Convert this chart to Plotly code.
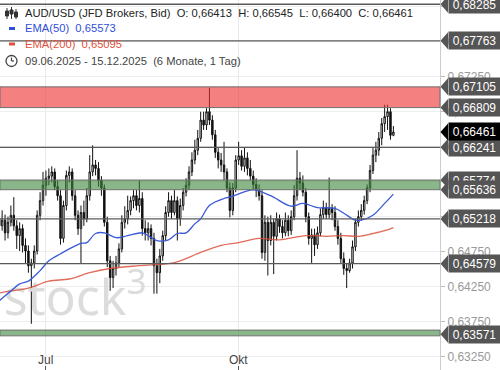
import plotly.graph_objects as go

# ---------------- data ----------------
bar_index = list(range(136))  # trading days 09.06.2025 .. 15.12.2025
tick_bars = [16, 82]
tick_text = ["Jul", "Okt"]

open_ = [0.6522,0.6512,0.6520,0.6502,0.6517,0.6527,0.6512,0.6498,0.6508,0.6484,
0.6476,0.6455,0.6459,0.6476,0.6527,0.6548,0.6570,0.6580,0.6583,0.6589,
0.6568,0.6555,0.6494,0.6541,0.6584,0.6589,0.6555,0.6527,0.6508,0.6531,
0.6522,0.6555,0.6589,0.6599,0.6594,0.6577,0.6566,0.6517,0.6462,0.6438,
0.6451,0.6459,0.6479,0.6517,0.6522,0.6534,0.6548,0.6555,0.6541,0.6551,
0.6508,0.6502,0.6508,0.6494,0.6455,0.6445,0.6469,0.6498,0.6531,0.6548,
0.6531,0.6548,0.6522,0.6541,0.6560,0.6570,0.6589,0.6606,0.6620,0.6637,
0.6663,0.6656,0.6675,0.6663,0.6642,0.6617,0.6606,0.6599,0.6589,0.6566,
0.6534,0.6566,0.6606,0.6612,0.6597,0.6609,0.6594,0.6583,0.6571,0.6563,
0.6555,0.6474,0.6517,0.6491,0.6517,0.6497,0.6522,0.6511,0.6502,0.6520,
0.6505,0.6525,0.6555,0.6580,0.6573,0.6560,0.6525,0.6494,0.6499,0.6485,
0.6502,0.6528,0.6538,0.6528,0.6537,0.6531,0.6511,0.6494,0.6465,0.6451,
0.6448,0.6459,0.6482,0.6517,0.6525,0.6534,0.6548,0.6566,0.6591,0.6613,
0.6620,0.6637,0.6658,0.6668,0.6675,0.66413]

high = [0.6531,0.6534,0.6528,0.6525,0.6541,0.6553,0.6520,0.6517,0.6514,0.6494,
0.6484,0.6465,0.6484,0.6534,0.6560,0.6589,0.6591,0.6594,0.6597,0.6594,
0.6577,0.6563,0.6548,0.6591,0.6597,0.6594,0.6563,0.6534,0.6541,0.6548,
0.6566,0.6613,0.6627,0.6606,0.6603,0.6583,0.6571,0.6525,0.6469,0.6462,
0.6469,0.6487,0.6527,0.6540,0.6555,0.6554,0.6563,0.6563,0.6577,0.6560,
0.6520,0.6517,0.6514,0.6502,0.6465,0.6479,0.6505,0.6540,0.6560,0.6555,
0.6563,0.6554,0.6551,0.6566,0.6580,0.6597,0.6617,0.6635,0.6649,0.6675,
0.6675,0.6680,0.6709,0.6670,0.6649,0.6623,0.6616,0.6632,0.6594,0.6574,
0.6573,0.6613,0.6632,0.6620,0.6624,0.6617,0.6606,0.6591,0.6580,0.6571,
0.6563,0.6527,0.6525,0.6527,0.6522,0.6531,0.6528,0.6520,0.6531,0.6527,
0.6534,0.6570,0.6620,0.6589,0.6584,0.6566,0.6531,0.6508,0.6508,0.6511,
0.6537,0.6548,0.6545,0.6581,0.6543,0.6540,0.6520,0.6502,0.6474,0.6459,
0.6465,0.6491,0.6522,0.6534,0.6543,0.6555,0.6571,0.6599,0.6623,0.6632,
0.6646,0.6666,0.6685,0.6685,0.6680,0.66545]

low = [0.6502,0.6505,0.6491,0.6494,0.6511,0.6505,0.6479,0.6476,0.6474,0.6459,
0.6445,0.6372,0.6451,0.6471,0.6520,0.6541,0.6555,0.6570,0.6574,0.6563,
0.6548,0.6485,0.6488,0.6534,0.6574,0.6548,0.6520,0.6499,0.6458,0.6512,
0.6517,0.6548,0.6583,0.6584,0.6568,0.6555,0.6511,0.6453,0.6419,0.6423,
0.6441,0.6453,0.6474,0.6508,0.6514,0.6527,0.6537,0.6534,0.6531,0.6498,
0.6491,0.6491,0.6484,0.6415,0.6415,0.6430,0.6462,0.6491,0.6525,0.6522,
0.6527,0.6491,0.6512,0.6534,0.6554,0.6563,0.6583,0.6600,0.6613,0.6632,
0.6649,0.6649,0.6656,0.6635,0.6609,0.6594,0.6589,0.6577,0.6560,0.6524,
0.6527,0.6560,0.6599,0.6591,0.6589,0.6584,0.6577,0.6563,0.6553,0.6548,
0.6465,0.6462,0.6441,0.6484,0.6443,0.6491,0.6502,0.6494,0.6497,0.6497,
0.6499,0.6520,0.6548,0.6563,0.6554,0.6517,0.6485,0.6459,0.6469,0.6479,
0.6497,0.6522,0.6522,0.6522,0.6520,0.6505,0.6485,0.6459,0.6442,0.6423,
0.6445,0.6451,0.6476,0.6511,0.6520,0.6528,0.6543,0.6560,0.6586,0.6603,
0.6612,0.6627,0.6646,0.6649,0.6635,0.66400]

close = [0.6512,0.6520,0.6502,0.6517,0.6527,0.6512,0.6498,0.6508,0.6484,0.6476,
0.6455,0.6459,0.6476,0.6527,0.6548,0.6570,0.6580,0.6583,0.6589,0.6568,
0.6555,0.6494,0.6541,0.6584,0.6589,0.6555,0.6527,0.6508,0.6531,0.6522,
0.6555,0.6589,0.6599,0.6594,0.6577,0.6566,0.6517,0.6462,0.6438,0.6451,
0.6459,0.6479,0.6517,0.6522,0.6534,0.6548,0.6555,0.6541,0.6551,0.6508,
0.6502,0.6508,0.6494,0.6455,0.6445,0.6469,0.6498,0.6531,0.6548,0.6531,
0.6548,0.6522,0.6541,0.6560,0.6570,0.6589,0.6606,0.6620,0.6637,0.6663,
0.6656,0.6675,0.6663,0.6642,0.6617,0.6606,0.6599,0.6589,0.6566,0.6534,
0.6566,0.6606,0.6612,0.6597,0.6609,0.6594,0.6583,0.6571,0.6563,0.6555,
0.6474,0.6517,0.6491,0.6517,0.6497,0.6522,0.6511,0.6502,0.6520,0.6505,
0.6525,0.6555,0.6580,0.6573,0.6560,0.6525,0.6494,0.6499,0.6485,0.6502,
0.6528,0.6538,0.6528,0.6537,0.6531,0.6511,0.6494,0.6465,0.6451,0.6448,
0.6459,0.6482,0.6517,0.6525,0.6534,0.6548,0.6566,0.6591,0.6613,0.6620,
0.6637,0.6658,0.6668,0.6675,0.66413,0.66461]

ema50_bars = [0,4,7,10,14,17,21,24,28,30,33,36,40,44,49,51,54,58,61,64,67,69,72,77,79,86,88,93,100,104,109,115,118,122,124,128,132,135]
ema50_vals = [0.6405,0.6419,0.6429,0.6433,0.6448,0.6462,0.6472,0.6479,0.6487,0.6488,
              0.6501,0.6502,0.6495,0.6498,0.6502,0.6498,0.6491,0.6492,0.6501,0.6502,
              0.6515,0.6522,0.6541,0.6551,0.6553,0.6563,0.6563,0.6555,0.6540,0.6544,
              0.6538,0.6537,0.6530,0.6520,0.6520,0.6527,0.6544,0.65573]

ema200_bars = [0,4,10,17,24,31,38,48,58,62,69,76,82,89,96,105,112,118,123,128,132,135]
ema200_vals = [0.6416,0.6419,0.6423,0.6433,0.6436,0.6445,0.6451,0.6455,0.6458,0.6462,
               0.6474,0.6484,0.6488,0.6494,0.6492,0.6498,0.6497,0.6498,0.6497,0.6501,
               0.6505,0.65095]

level_lines = [0.68285, 0.67763, 0.66241, 0.65218, 0.64579]
resist_zone = [0.66809, 0.67105]
support_zone = [0.65636, 0.65774]
low_zone = [0.63548, 0.63630]
low_zone_label = 0.63571

y_ticks = [0.6325, 0.6375, 0.6425, 0.6475, 0.6525, 0.6575, 0.6625, 0.6675, 0.6725, 0.6775, 0.6825]
y_range = [0.63060, 0.68346]
x_range = [0.27, 150.96]

# ---------------- helpers ----------------
PLOT_W, PLOT_H = 440.0, 370.0
PX_PER_VAL = PLOT_H / (y_range[1] - y_range[0])
FONT = "Liberation Sans, Arial, sans-serif"

def fmt(v):
    return f"{v:.5f}".replace(".", ",")

def pxx(p):
    return p / PLOT_W

def pxy(p):
    return 1 - p / PLOT_H

BLUE = "#2f4fd8"
RED = "#e0503c"

fig = go.Figure()

# watermark behind the candles
fig.add_trace(go.Scatter(
    x=[26], y=[0.6403], mode="text", text=["stock<sup>3</sup>"],
    textfont=dict(size=50, color="#dcdcdc", family="Noto Sans"),
    hoverinfo="skip", showlegend=False, cliponaxis=False))

fig.add_trace(go.Scatter(x=ema200_bars, y=ema200_vals, mode="lines",
                         line=dict(color="rgba(220,80,60,0.85)", width=1.3, shape="spline"),
                         hoverinfo="skip", showlegend=False))
fig.add_trace(go.Scatter(x=ema50_bars, y=ema50_vals, mode="lines",
                         line=dict(color="#3a5ad8", width=1.3, shape="spline"),
                         hoverinfo="skip", showlegend=False))

fig.add_trace(go.Candlestick(
    x=bar_index, open=open_, high=high, low=low, close=close,
    increasing=dict(line=dict(color="#111111", width=1), fillcolor="#ffffff"),
    decreasing=dict(line=dict(color="#111111", width=1), fillcolor="#111111"),
    whiskerwidth=0, hoverinfo="skip", showlegend=False))

shapes = []
# zones
for z, col in [(resist_zone, "rgba(238,50,50,0.62)"),
               (support_zone, "rgba(60,135,60,0.6)"),
               (low_zone, "rgba(60,135,60,0.6)")]:
    shapes.append(dict(type="rect", xref="paper", yref="y", x0=0, x1=1, y0=z[0], y1=z[1],
                       fillcolor=col, line=dict(color="#6f6f6f", width=1), layer="above"))
for lv in level_lines:
    shapes.append(dict(type="line", xref="paper", yref="y", x0=0, x1=1, y0=lv, y1=lv,
                       line=dict(color="#5a5a5a", width=1.3), layer="above"))

# price labels (arrow-shaped boxes)
labels = [(level_lines[0], "#555555"), (level_lines[1], "#555555"),
          (resist_zone[1], "#555555"), (resist_zone[0], "#555555"),
          (level_lines[2], "#555555"),
          (support_zone[1], "#555555"), (support_zone[0], "#555555"),
          (level_lines[3], "#555555"), (level_lines[4], "#555555"),
          (low_zone_label, "#555555"),
          (close[-1], "#000000")]
annotations = []
half = 8.5 / PX_PER_VAL
for v, col in labels:
    shapes.append(dict(type="path", xref="paper", yref="y",
                       path=f"M {pxx(440.5)},{v} L {pxx(448)},{v + half} L {pxx(448)},{v - half} Z",
                       fillcolor=col, line=dict(width=0), layer="above"))
    annotations.append(dict(xref="paper", yref="y", x=pxx(447.5), y=v, xanchor="left", yanchor="middle",
                            text=fmt(v), showarrow=False, bgcolor=col, width=51, height=17,
                            borderpad=0, font=dict(color="white", size=12, family=FONT)))

# month labels placed at their bars along the bottom of the plot
for b, t in zip(tick_bars, tick_text):
    annotations.append(dict(xref="x", yref="paper", x=b, y=pxy(360), xanchor="center", yanchor="middle",
                            text=t, showarrow=False, font=dict(color="#444444", size=12, family=FONT)))

# legend (top-left)
sep = "\u00a0\u00a0"
line1 = ("AUD/USD (JFD Brokers, Bid)" + sep + "O: " + fmt(open_[-1]) + sep + "H: " + fmt(high[-1]) +
         sep + "L: " + fmt(low[-1]) + sep + "C: " + fmt(close[-1]))
LEG = 11.2
annotations += [
    dict(xref="paper", yref="paper", x=pxx(22.5), y=pxy(13.5), xanchor="left", yanchor="middle",
         text=line1, showarrow=False, font=dict(color="#222222", size=LEG, family=FONT)),
    dict(xref="paper", yref="paper", x=pxx(22.5), y=pxy(28.5), xanchor="left", yanchor="middle",
         text="EMA(50)" + sep + fmt(ema50_vals[-1]), showarrow=False,
         font=dict(color=BLUE, size=LEG, family=FONT)),
    dict(xref="paper", yref="paper", x=pxx(22.5), y=pxy(44), xanchor="left", yanchor="middle",
         text="EMA(200)" + sep + fmt(ema200_vals[-1]), showarrow=False,
         font=dict(color=RED, size=LEG, family=FONT)),
    dict(xref="paper", yref="paper", x=pxx(22.5), y=pxy(61), xanchor="left", yanchor="middle",
         text="09.06.2025 - 15.12.2025" + sep + "(6 Monate, 1 Tag)", showarrow=False,
         font=dict(color="#444444", size=LEG, family=FONT)),
]
# legend icons
shapes += [
    dict(type="line", xref="paper", yref="paper", x0=pxx(9), x1=pxx(15), y0=pxy(28.5), y1=pxy(28.5),
         line=dict(color=BLUE, width=3)),
    dict(type="line", xref="paper", yref="paper", x0=pxx(9), x1=pxx(15), y0=pxy(44), y1=pxy(44),
         line=dict(color=RED, width=3)),
    dict(type="circle", xref="paper", yref="paper", x0=pxx(6), x1=pxx(17), y0=pxy(66.5), y1=pxy(55.5),
         line=dict(color="#444444", width=1.3)),
    dict(type="line", xref="paper", yref="paper", x0=pxx(11.5), x1=pxx(11.5), y0=pxy(61), y1=pxy(57.5),
         line=dict(color="#444444", width=1.2)),
    dict(type="line", xref="paper", yref="paper", x0=pxx(11.5), x1=pxx(14), y0=pxy(61), y1=pxy(61),
         line=dict(color="#444444", width=1.2)),
]
for cx, top, bot, b0, b1 in [(7, 8, 19, 11, 16), (11.5, 7, 19, 10, 14), (16, 9, 19, 12, 17)]:
    shapes.append(dict(type="line", xref="paper", yref="paper", x0=pxx(cx), x1=pxx(cx),
                       y0=pxy(top), y1=pxy(bot), line=dict(color="#333333", width=1)))
    shapes.append(dict(type="rect", xref="paper", yref="paper", x0=pxx(cx - 1.5), x1=pxx(cx + 1.5),
                       y0=pxy(b0), y1=pxy(b1), fillcolor="#333333", line=dict(color="#333333", width=1)))

fig.update_layout(
    width=500, height=370,
    margin=dict(l=0, r=60, t=0, b=0, pad=0, autoexpand=False),
    paper_bgcolor="white", plot_bgcolor="white",
    template="none",
    showlegend=False,
    shapes=shapes, annotations=annotations,
    xaxis=dict(range=x_range, rangeslider=dict(visible=False), tickvals=tick_bars, ticktext=tick_text,
               showticklabels=False,
               showgrid=True, gridcolor="#e9e9e9", gridwidth=1, zeroline=False, showline=False,
               ticks="inside", ticklen=4, tickcolor="#555555", automargin=False, fixedrange=True),
    yaxis=dict(side="right", range=y_range, tickvals=y_ticks, ticktext=[fmt(t) for t in y_ticks],
               showgrid=True, gridcolor="#eeeeee", zeroline=False, showline=True, linecolor="#cccccc",
               ticks="outside", ticklen=4, tickcolor="#bbbbbb", automargin=False,
               tickfont=dict(color="#9a9a9a", size=12, family=FONT), fixedrange=True),
)

fig.write_html("out.html", config={"displayModeBar": False},
               post_script="document.body.style.margin='0';document.body.style.overflow='hidden';")
